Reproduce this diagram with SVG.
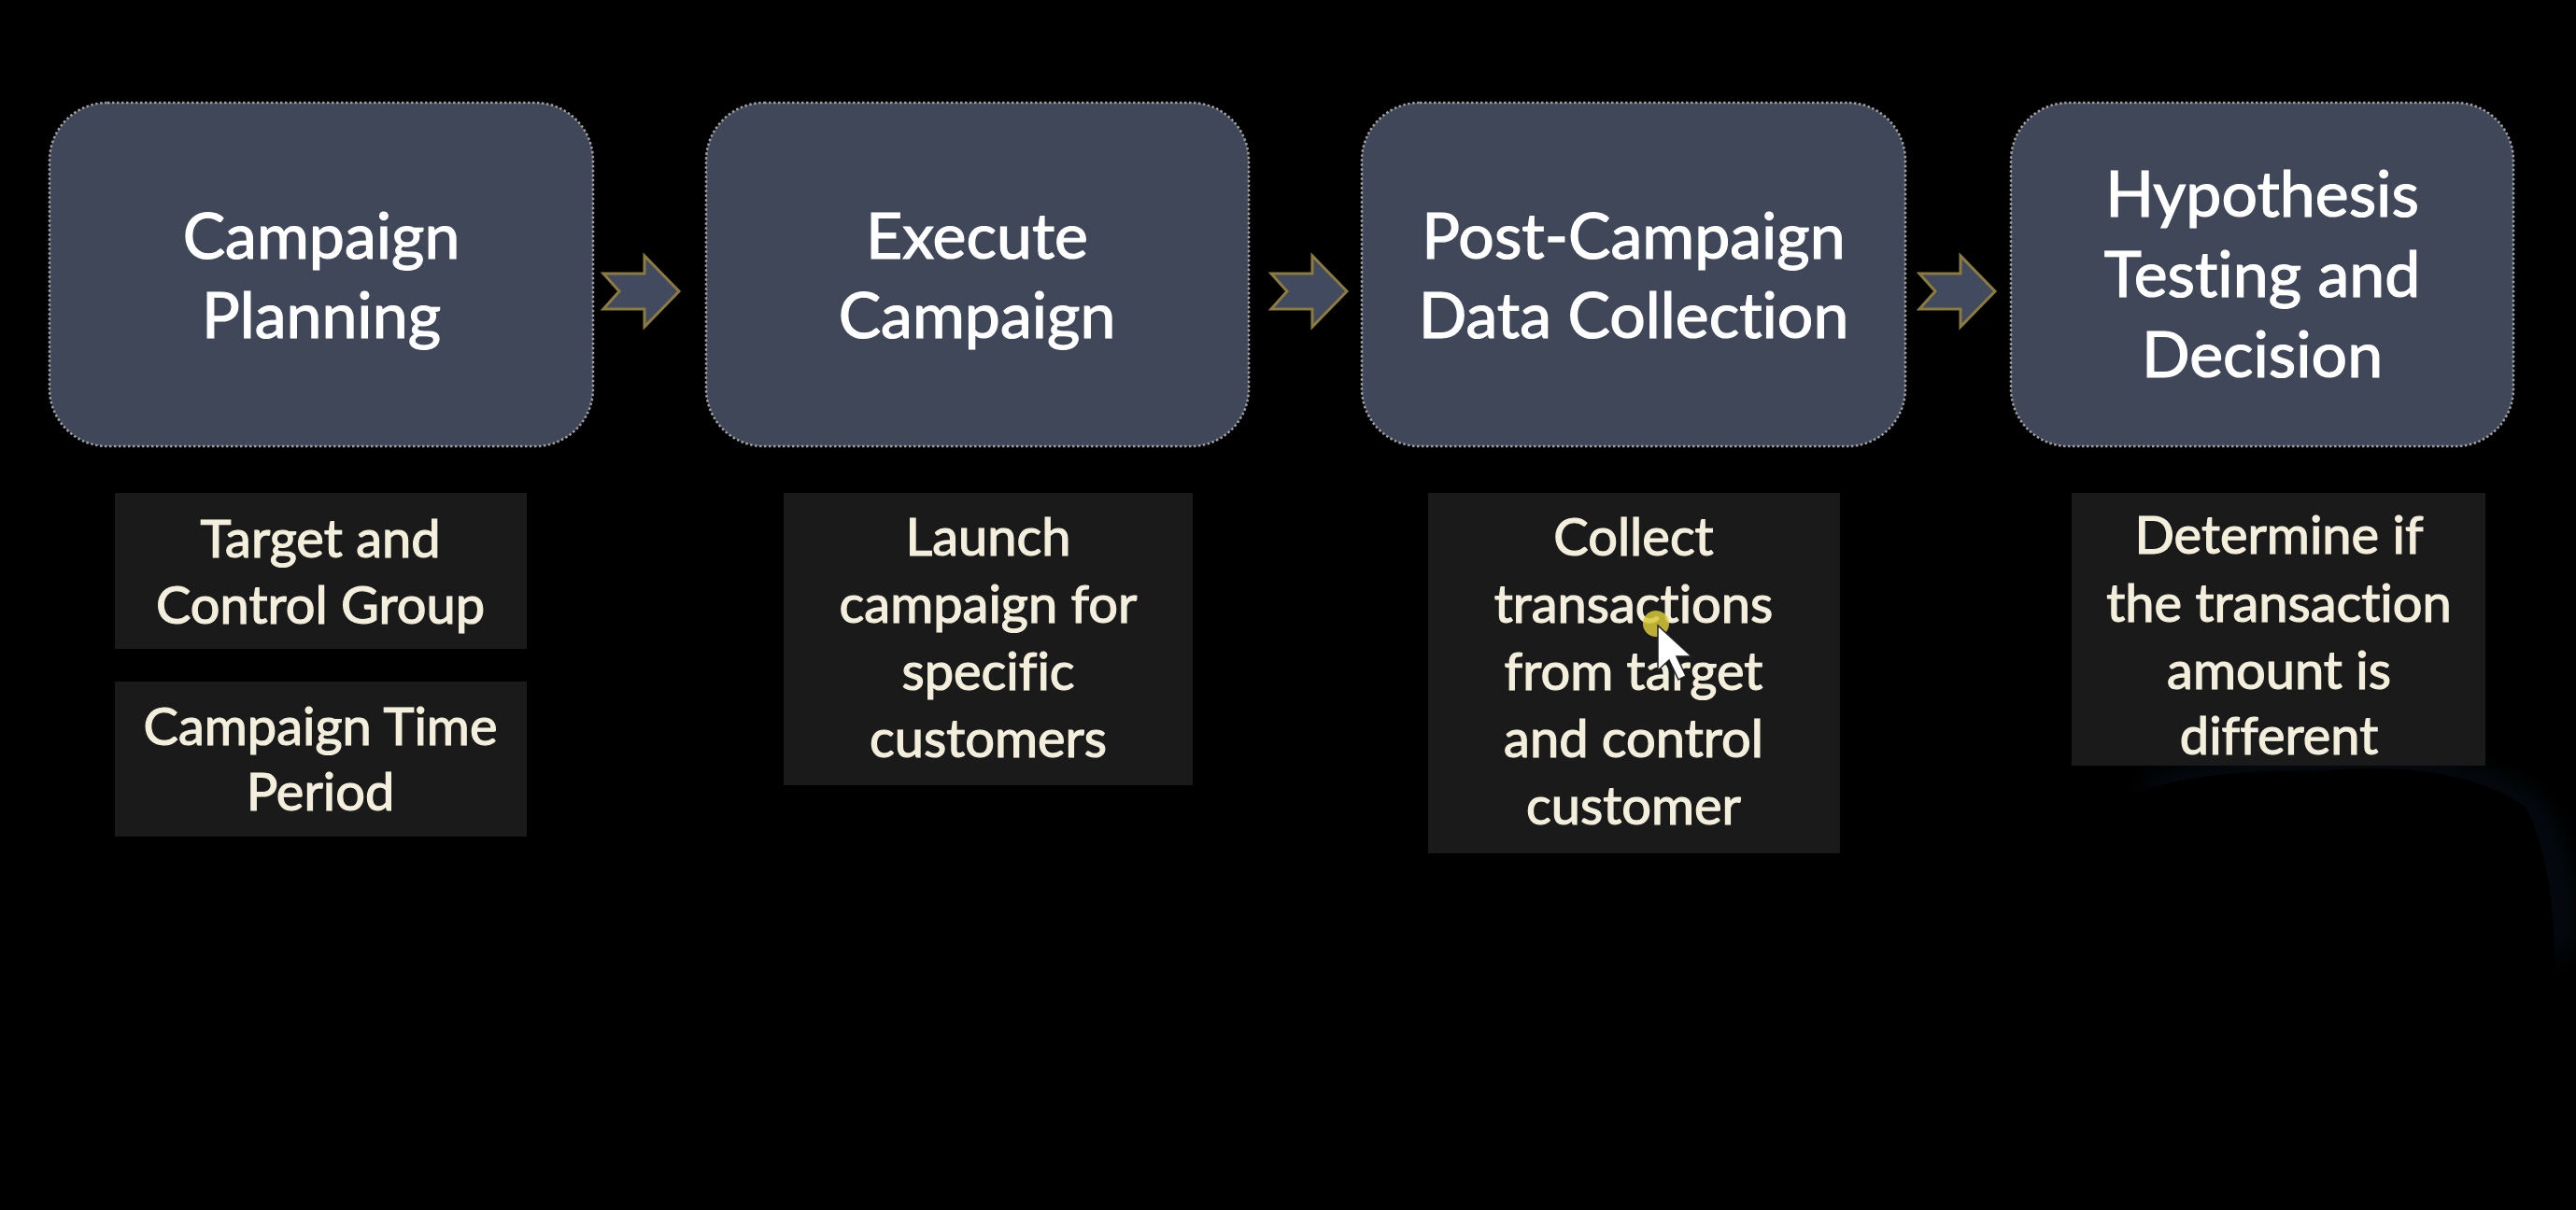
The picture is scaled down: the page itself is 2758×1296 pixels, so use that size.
<svg xmlns="http://www.w3.org/2000/svg" width="2758" height="1296" viewBox="0 0 2758 1296">
<defs>
<style>
.step{fill:#3f4759;stroke:#a0a0a0;stroke-width:2.5;stroke-dasharray:2.5 2.5}
.cap{fill:#1a1a1a}
.t{font-family:Lato,"Open Sans","Liberation Sans",sans-serif;font-size:68px;fill:#ffffff;stroke:#ffffff;stroke-width:1.2;text-anchor:middle;font-variant-ligatures:none}
.c{font-family:Lato,"Open Sans","Liberation Sans",sans-serif;font-size:56px;fill:#f4efdd;stroke:#f4efdd;stroke-width:1.2;text-anchor:middle;font-variant-ligatures:none}
.arr{fill:#414a5e;stroke:#8c7b3c;stroke-width:3;stroke-linejoin:miter}
</style>
<filter id="blur" x="-20%" y="-20%" width="140%" height="140%">
<feGaussianBlur stdDeviation="16"/>
</filter>
</defs>
<rect width="2758" height="1296" fill="#000000"/>
<g id="silhouette">
<path d="M2300 850 Q2400 826 2480 828 Q2640 815 2710 870 Q2745 940 2738 1020" fill="none" stroke="#1d3a5c" stroke-width="16" opacity="0.4" filter="url(#blur)"/>
<path d="M2240 870 Q2320 822 2480 826 Q2630 812 2705 865 Q2745 950 2732 1110 L2722 1296 L2235 1296 Q2215 1100 2240 870 Z" fill="#000000"/>
</g>
<g id="connectors">
<polygon class="arr" points="646,293 690,293 690,274 727,312 690,350 690,331 646,331 663,312"/>
<polygon class="arr" points="1361,293 1405,293 1405,274 1442,312 1405,350 1405,331 1361,331 1378,312"/>
<polygon class="arr" points="2055,293 2099,293 2099,274 2136,312 2099,350 2099,331 2055,331 2072,312"/>
</g>
<g id="step1">
<rect class="step" x="53" y="110" width="582" height="368" rx="62"/>
<text class="t" x="344" y="277">Campaign</text>
<text class="t" x="344" y="362">Planning</text>
</g>
<g id="step2">
<rect class="step" x="756" y="110" width="581" height="368" rx="62"/>
<text class="t" x="1046" y="277">Execute</text>
<text class="t" x="1046" y="362">Campaign</text>
</g>
<g id="step3">
<rect class="step" x="1458" y="110" width="582" height="368" rx="62"/>
<text class="t" x="1749" y="277">Post-Campaign</text>
<text class="t" x="1749" y="362">Data Collection</text>
</g>
<g id="step4">
<rect class="step" x="2153" y="110" width="538" height="368" rx="62"/>
<text class="t" x="2422" y="232">Hypothesis</text>
<text class="t" x="2422" y="318">Testing and</text>
<text class="t" x="2422" y="404">Decision</text>
</g>
<g id="caption1a">
<rect class="cap" x="123" y="528" width="441" height="167"/>
<text class="c" x="343" y="597">Target and</text>
<text class="c" x="343" y="668">Control Group</text>
</g>
<g id="caption1b">
<rect class="cap" x="123" y="730" width="441" height="166"/>
<text class="c" x="343" y="798">Campaign Time</text>
<text class="c" x="343" y="868">Period</text>
</g>
<g id="caption2">
<rect class="cap" x="839" y="528" width="438" height="313"/>
<text class="c" x="1058" y="595">Launch</text>
<text class="c" x="1058" y="667">campaign for</text>
<text class="c" x="1058" y="739">specific</text>
<text class="c" x="1058" y="811">customers</text>
</g>
<g id="caption3">
<rect class="cap" x="1529" y="528" width="441" height="386"/>
<text class="c" x="1749" y="595">Collect</text>
<text class="c" x="1749" y="667">transactions</text>
<text class="c" x="1749" y="739">from target</text>
<text class="c" x="1749" y="811">and control</text>
<text class="c" x="1749" y="883">customer</text>
</g>
<g id="caption4">
<rect class="cap" x="2218" y="528" width="443" height="292"/>
<text class="c" x="2440" y="593">Determine if</text>
<text class="c" x="2440" y="666">the transaction</text>
<text class="c" x="2440" y="738">amount is</text>
<text class="c" x="2440" y="808">different</text>
</g>
<g id="cursor">
<circle cx="1773" cy="668" r="14" fill="#d8c93a" opacity="0.85"/>
<polygon points="1775,670 1775,718 1787,707 1797,728 1805,724 1795,703 1811,703" fill="#ffffff" stroke="#222222" stroke-width="1.5"/>
</g>
</svg>
